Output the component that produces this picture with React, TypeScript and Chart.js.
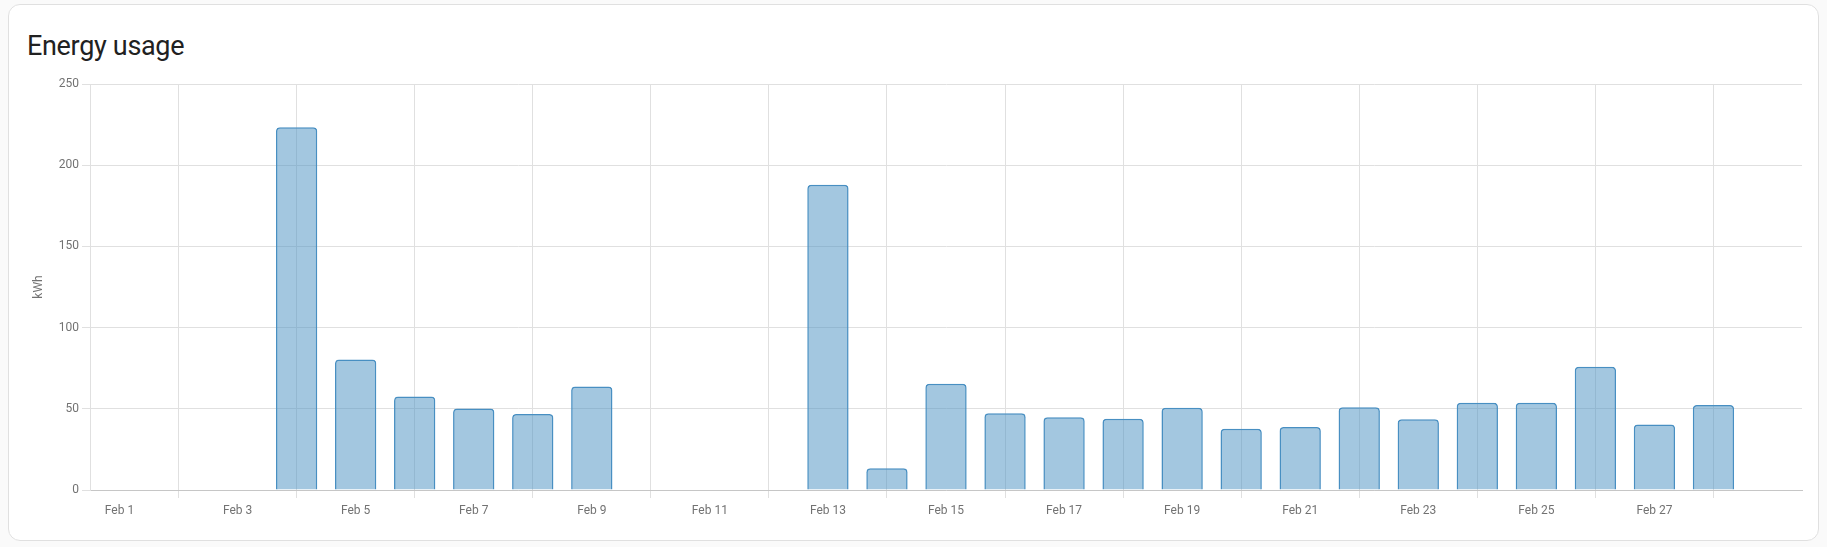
import React, { useEffect, useRef } from "react";
import { Chart, registerables } from "chart.js";

Chart.register(...registerables);

const categories = [
  "Feb 1", "Feb 2", "Feb 3", "Feb 4", "Feb 5", "Feb 6", "Feb 7", "Feb 8", "Feb 9", "Feb 10",
  "Feb 11", "Feb 12", "Feb 13", "Feb 14", "Feb 15", "Feb 16", "Feb 17", "Feb 18", "Feb 19", "Feb 20",
  "Feb 21", "Feb 22", "Feb 23", "Feb 24", "Feb 25", "Feb 26", "Feb 27", "Feb 28", "Feb 29",
];

const usage: (number | null)[] = [
  null, null, null, 223.3, 80.3, 57.5, 50.2, 46.8, 63.8, null,
  null, null, 188.0, 13.4, 65.4, 47.2, 44.8, 43.8, 50.7, 37.7,
  38.8, 50.9, 43.6, 53.7, 53.7, 75.9, 40.3, 52.4, null,
];

const xTickLabels = [
  "Feb 1", "Feb 3", "Feb 5", "Feb 7", "Feb 9", "Feb 11", "Feb 13",
  "Feb 15", "Feb 17", "Feb 19", "Feb 21", "Feb 23", "Feb 25", "Feb 27",
];

const yTicks = [0, 50, 100, 150, 200, 250];

const title = "Energy usage";
const unit = "kWh";

export default function App() {
  const ref = useRef<HTMLCanvasElement>(null);

  useEffect(() => {
    if (!ref.current) return;
    const tickFont = { family: "Roboto", size: 12 };
    const chart = new Chart(ref.current, {
      type: "bar",
      data: {
        labels: categories,
        datasets: [
          {
            label: "Energy usage",
            data: usage,
            backgroundColor: "rgba(72,143,194,0.5)",
            borderColor: "#488fc2",
            borderWidth: 1.5,
            borderRadius: 4,
            barPercentage: 0.875,
            categoryPercentage: 0.8,
          },
        ],
      },
      options: {
        responsive: false,
        animation: false,
        layout: { padding: { top: 14, right: 12, bottom: 10, left: 0 } },
        plugins: { legend: { display: false }, tooltip: { enabled: false } },
        scales: {
          x: {
            offset: true,
            grid: { offset: true, color: "#e0e0e0", tickLength: 8 },
            border: { color: "#c6c6c6" },
            ticks: {
              autoSkip: false,
              maxRotation: 0,
              minRotation: 0,
              color: "#727272",
              font: tickFont,
              padding: 6,
            },
            afterBuildTicks: (s: any) => {
              s.ticks = s.ticks.filter((t: any) => xTickLabels.includes(categories[t.value]));
            },
            afterFit: (s: any) => {
              s.height = 40;
            },
          },
          y: {
            min: yTicks[0],
            max: yTicks[yTicks.length - 1],
            grid: { color: "#e0e0e0", tickLength: 8 },
            border: { color: "#e0e0e0" },
            ticks: { stepSize: 50, color: "#727272", font: tickFont, padding: 3 },
            title: {
              display: true,
              text: unit,
              color: "#727272",
              font: tickFont,
              padding: { top: 8, bottom: 4 },
            },
            afterFit: (s: any) => {
              s.width = 66;
            },
          },
        },
      },
    });
    return () => chart.destroy();
  }, []);

  return (
    <div>
      <div style={{ position: "fixed", inset: 0, background: "#fafafa" }} />
      <div
        style={{
          position: "absolute",
          left: 8,
          top: 4,
          width: 1811,
          height: 537,
          boxSizing: "border-box",
          border: "1px solid #e0e0e0",
          borderRadius: 12,
          background: "#ffffff",
        }}
      />
      <div
        style={{
          position: "absolute",
          left: 27,
          top: 30,
          fontFamily: "Roboto",
          fontSize: 27,
          lineHeight: "32px",
          color: "#212121",
          letterSpacing: "-0.012em",
          whiteSpace: "nowrap",
        }}
      >
        {title}
      </div>
      <canvas
        ref={ref}
        width={1790}
        height={470}
        style={{ position: "absolute", left: 24, top: 70, width: 1790, height: 470 }}
      />
    </div>
  );
}
